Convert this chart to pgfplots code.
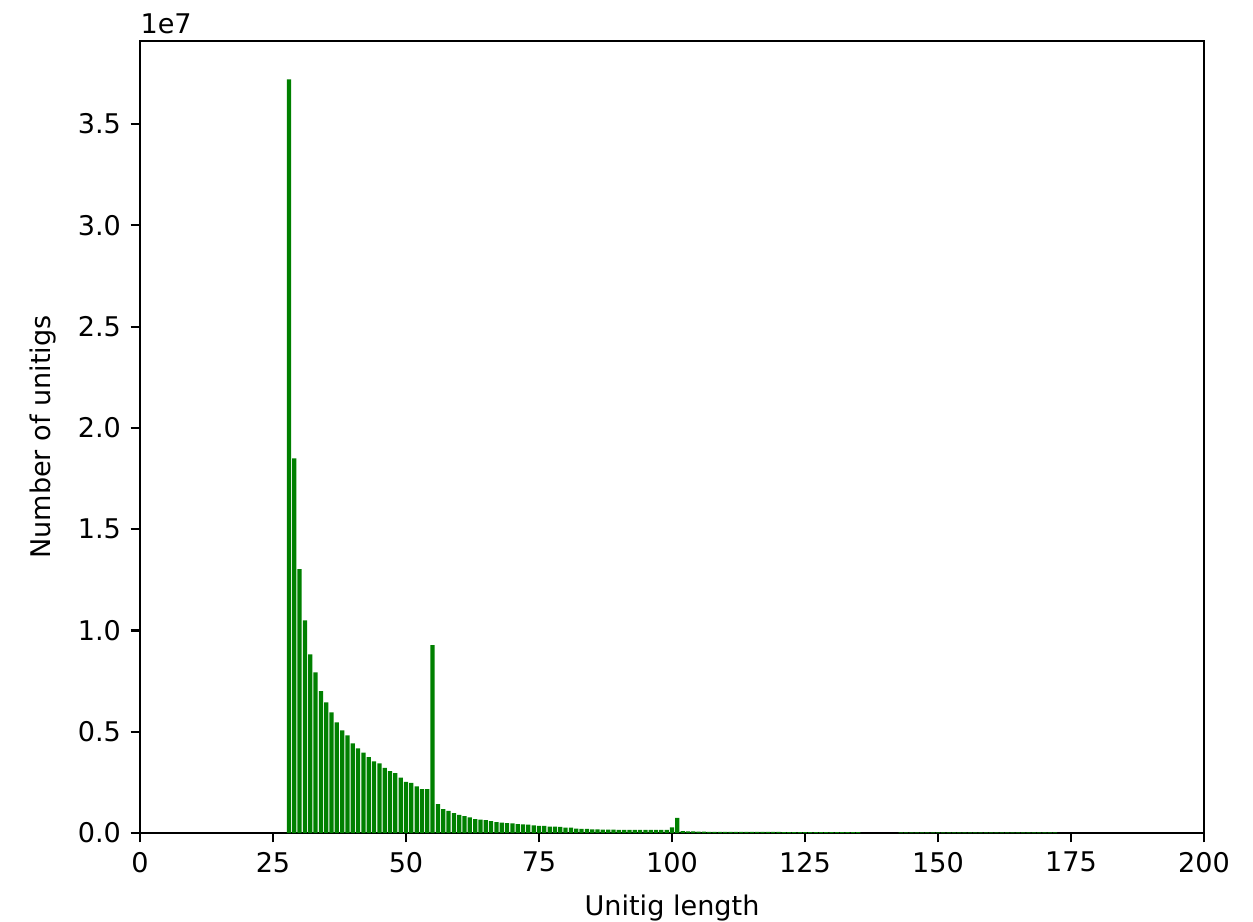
\documentclass[border=0pt]{standalone}
\usepackage{pgfplots}
\pgfplotsset{compat=1.18}
\usepackage{fontspec}
\setmainfont{DejaVu Sans}
\definecolor{mplgreen}{RGB}{0,128,0}
\begin{document}
\begin{tikzpicture}
\useasboundingbox (-51.68pt,-32.85pt) rectangle (410.85pt,307.49pt);
\begin{axis}[
  scale only axis,
  width=392.76pt, height=292.36pt,
  xmin=0, xmax=200, ymin=0, ymax=3.91,
  xtick={0,25,...,200},
  ytick={0,0.5,...,3.5},
  yticklabel style={/pgf/number format/.cd, fixed, fixed zerofill, precision=1},
  /pgf/number format/assume math mode=true,
  scaled y ticks=false,
  tick align=outside,
  tick pos=left,
  major tick length=3.5pt,
  every tick/.style={black, line width=0.8pt},
  axis line style={line width=0.8pt},
  ticklabel style={font=\fontsize{10}{12}\selectfont},
  label style={font=\fontsize{10}{12}\selectfont},
  xlabel={Unitig length},
  ylabel={Number of unitigs},
  xlabel style={yshift=-1.5pt},
  ylabel style={yshift=1pt},
  clip=false,
]
\addplot[ybar, bar width=0.8, fill=mplgreen, draw=none] coordinates {
(28,3.72) (29,1.85) (30,1.303) (31,1.05) (32,0.882) (33,0.793) (34,0.701) (35,0.645)
(36,0.596) (37,0.546) (38,0.507) (39,0.482) (40,0.443) (41,0.418) (42,0.397) (43,0.375)
(44,0.354) (45,0.344) (46,0.322) (47,0.306) (48,0.295) (49,0.273) (50,0.253) (51,0.247)
(52,0.230) (53,0.216) (54,0.216) (55,0.927) (56,0.143) (57,0.118) (58,0.109) (59,0.098)
(60,0.089) (61,0.083) (62,0.077) (63,0.069) (64,0.066) (65,0.063) (66,0.059) (67,0.054)
(68,0.051) (69,0.049) (70,0.048) (71,0.044) (72,0.043) (73,0.041) (74,0.038) (75,0.035)
(76,0.035) (77,0.031) (78,0.031) (79,0.030) (80,0.026) (81,0.026) (82,0.021) (83,0.020)
(84,0.020) (85,0.018) (86,0.018) (87,0.017) (88,0.017) (89,0.017) (90,0.016) (91,0.016)
(92,0.015) (93,0.015) (94,0.015) (95,0.015) (96,0.015) (97,0.015) (98,0.015) (99,0.015)
(100,0.028) (101,0.075) (102,0.009) (103,0.008) (104,0.008) (105,0.007) (106,0.007)
(107,0.006) (108,0.006) (109,0.006) (110,0.006) (111,0.006) (112,0.006)
(113,0.005) (114,0.005) (115,0.005) (116,0.005) (117,0.005) (118,0.005) (119,0.005) (120,0.005)
(121,0.004) (122,0.004) (123,0.004) (124,0.004) (125,0.004) (126,0.004) (127,0.004) (128,0.004)
(129,0.004) (130,0.004) (131,0.004) (132,0.004) (133,0.004) (134,0.004) (135,0.004)
(143,0.003) (144,0.003) (145,0.003) (146,0.003) (147,0.003) (148,0.003) (149,0.003) (150,0.003)
(151,0.003) (152,0.003) (153,0.003) (154,0.003) (155,0.003) (156,0.003) (157,0.003) (158,0.003)
(159,0.003) (160,0.003) (161,0.003) (162,0.003) (163,0.003) (164,0.003) (165,0.003) (166,0.003)
(167,0.003) (168,0.003) (169,0.003) (170,0.003) (171,0.003) (172,0.003)
};
\node[anchor=south west, inner sep=0pt, font=\fontsize{10}{12}\selectfont] at (rel axis cs:0,1) [yshift=2.5pt] {1e7};
\end{axis}
\end{tikzpicture}
\end{document}
